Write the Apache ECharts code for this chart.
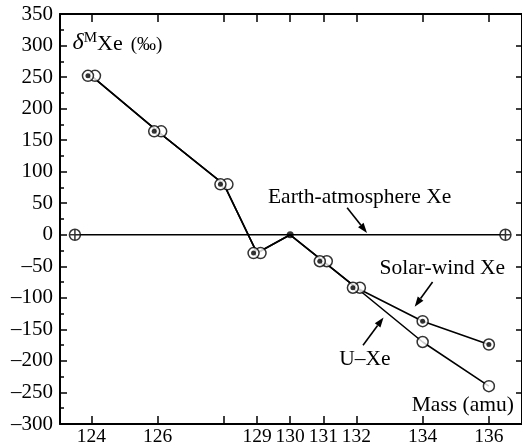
<!DOCTYPE html>
<html><head><meta charset="utf-8">
<script src="https://cdn.jsdelivr.net/npm/echarts@6/dist/echarts.min.js"></script>
<style>html,body{margin:0;padding:0;background:#fff}#c{width:522px;height:447px}</style>
</head><body><div id="c"></div>
<script>
// ---- data ----
const masses = [124, 126, 128, 129, 130, 131, 132, 134, 136];
const solarWind = [252, 164, 80, -29, 0, -42, -84, -137, -174];
const uXe = [252, 164, 80, -29, 0, -42, -84, -170, -240];
const earthX = [123.5, 130, 136.5];
const earthY = [0, 0, 0];
const xTickValues = [124, 126, 128, 129, 130, 131, 132, 134, 136];
const xLabelValues = [124, 126, 129, 130, 131, 132, 134, 136];
const yMin = -300, yMax = 350, yStep = 50;
const xMin = 123.05, xMax = 137;

const FONT = 'Liberation Serif';
const chart = echarts.init(document.getElementById('c'), null, {renderer: 'canvas'});

const pairOffset = 3.5;
function isPair(i) { return Math.abs(solarWind[i] - uXe[i]) < 5 && masses[i] !== 130; }
const solarPts = [], uPts = [];
masses.forEach((m, i) => {
  if (m === 130) return;
  const off = isPair(i) ? pairOffset : 0;
  solarPts.push({value: [m, solarWind[i]], symbolOffset: [-off, 0]});
  uPts.push({value: [m, uXe[i]], symbolOffset: [off, 0]});
});
const centerIdx = masses.indexOf(130);

const crossPath = 'path://M0,-5A5,5 0 1,1 0,5A5,5 0 1,1 0,-5ZM-5,0L5,0M0,-5L0,5';
const fmtNeg = v => v < 0 ? '\u2013' + Math.abs(v) : String(v);

const axisLine = {show: true, onZero: false, lineStyle: {color: '#000', width: 2}};

chart.setOption({
  animation: false,
  backgroundColor: '#fff',
  grid: {left: 60, top: 14, bottom: 22, right: -4, containLabel: false},
  xAxis: [{
    type: 'value', min: xMin, max: xMax, position: 'bottom',
    axisLine: axisLine, splitLine: {show: false},
    axisTick: {inside: true, length: 8, lineStyle: {color: '#000', width: 1.5}, customValues: xTickValues},
    axisLabel: {customValues: xLabelValues, color: '#000', fontFamily: FONT, fontSize: 19.5, margin: 3}
  }, {
    type: 'value', min: xMin, max: xMax, position: 'top',
    axisLine: axisLine, splitLine: {show: false},
    axisTick: {inside: true, length: 8, lineStyle: {color: '#000', width: 1.5}, customValues: xTickValues},
    axisLabel: {show: false}
  }],
  yAxis: [{
    type: 'value', min: yMin, max: yMax, interval: yStep, position: 'left',
    axisLine: axisLine, splitLine: {show: false},
    axisTick: {inside: true, length: 7, lineStyle: {color: '#000', width: 1.5}},
    minorTick: {show: true, splitNumber: 2, length: 4, lineStyle: {color: '#000', width: 1.5}},
    axisLabel: {color: '#000', fontFamily: FONT, fontSize: 21, margin: 7, formatter: fmtNeg}
  }, {
    type: 'value', min: yMin, max: yMax, interval: yStep, position: 'right',
    axisLine: axisLine, splitLine: {show: false},
    axisTick: {inside: true, length: 6, lineStyle: {color: '#000', width: 1.5}},
    axisLabel: {show: false}
  }],
  series: [
    {type: 'line', data: earthX.map((x, i) => [x, earthY[i]]), showSymbol: false,
     lineStyle: {color: '#000', width: 1.6}, z: 2, silent: true},
    {type: 'line', data: masses.map((m, i) => [m, solarWind[i]]), showSymbol: false,
     lineStyle: {color: '#000', width: 1.6}, z: 2, silent: true},
    {type: 'line', data: masses.map((m, i) => [m, uXe[i]]), showSymbol: false,
     lineStyle: {color: '#000', width: 1.6}, z: 2, silent: true},
    {type: 'scatter', data: [[earthX[0], earthY[0]], [earthX[2], earthY[2]]], symbol: crossPath, symbolSize: 11,
     itemStyle: {color: '#fff', borderColor: '#000', borderWidth: 1.5}, z: 4},
    {type: 'scatter', data: [[masses[centerIdx], solarWind[centerIdx]]], symbol: 'circle', symbolSize: 7,
     itemStyle: {color: '#000'}, z: 4},
    {type: 'scatter', data: uPts, symbol: 'circle', symbolSize: 11,
     itemStyle: {color: '#fff', borderColor: '#000', borderWidth: 1.5}, z: 5},
    {type: 'scatter', data: solarPts, symbol: 'circle', symbolSize: 11,
     itemStyle: {color: '#fff', borderColor: '#000', borderWidth: 1.5}, z: 6},
    {type: 'scatter', data: solarPts, symbol: 'circle', symbolSize: 5,
     itemStyle: {color: '#000'}, z: 7}
  ]
});

// ---- annotations (in data coordinates) ----
const labels = [
  {text: 'Earth-atmosphere Xe', at: [129.33, 59]},
  {text: 'Solar-wind Xe', at: [132.70, -53]},
  {text: 'U\u2013Xe', at: [131.48, -197]},
  {text: 'Mass (amu)', at: [133.67, -270]}
];
const arrows = [
  {from: [131.72, 43], to: [132.32, 3]},
  {from: [134.30, -75], to: [133.76, -114]},
  {from: [132.20, -175], to: [132.82, -131]}
];
const P = p => chart.convertToPixel({xAxisIndex: 0, yAxisIndex: 0}, p);
const g = [];
labels.forEach(l => {
  const p = P(l.at);
  g.push({type: 'text', x: p[0], y: p[1], z: 10,
    style: {text: l.text, fill: '#000', font: '21.5px "' + FONT + '"', align: 'left', verticalAlign: 'middle'}});
});
arrows.forEach(a => {
  const p0 = P(a.from), p1 = P(a.to);
  const dx = p1[0] - p0[0], dy = p1[1] - p0[1];
  const len = Math.hypot(dx, dy), ux = dx / len, uy = dy / len;
  const hl = 10, hw = 3.5;
  const bx = p1[0] - ux * hl, by = p1[1] - uy * hl;
  g.push({type: 'line', z: 10, shape: {x1: p0[0], y1: p0[1], x2: bx, y2: by}, style: {stroke: '#000', lineWidth: 1.6}});
  g.push({type: 'polygon', z: 10, shape: {points: [[p1[0], p1[1]], [bx - uy * hw, by + ux * hw], [bx + uy * hw, by - ux * hw]]}, style: {fill: '#000'}});
});
const pd = P([123.43, 304]);
g.push({type: 'text', x: pd[0], y: pd[1], z: 10,
  style: {
    text: '{d|\u03B4}{m|M}{x|Xe}{p|(\u2030)}', align: 'left', verticalAlign: 'middle',
    rich: {
      d: {fontFamily: FONT, fontSize: 24, fontStyle: 'italic', fill: '#000', verticalAlign: 'bottom'},
      m: {fontFamily: FONT, fontSize: 15, fill: '#000', verticalAlign: 'top'},
      x: {fontFamily: FONT, fontSize: 22, fill: '#000', verticalAlign: 'bottom'},
      p: {fontFamily: FONT, fontSize: 19, fill: '#000', verticalAlign: 'bottom', padding: [0, 0, 0, 8]}
    }
  }});
chart.setOption({graphic: g});
</script></body></html>
